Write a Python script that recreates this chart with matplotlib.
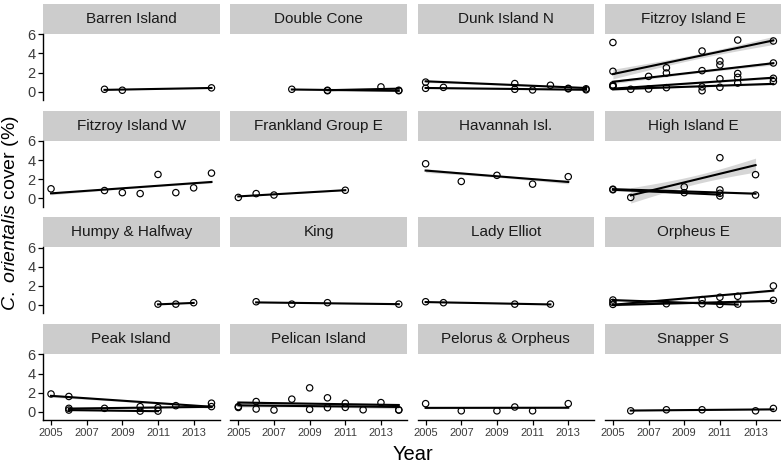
import numpy as np
import matplotlib
matplotlib.use('Agg')
import matplotlib.pyplot as plt
from matplotlib.patches import Rectangle

plt.rcParams['font.family'] = 'Liberation Sans'
plt.rcParams['mathtext.fontset'] = 'custom'
plt.rcParams['mathtext.rm'] = 'Liberation Sans'
plt.rcParams['mathtext.it'] = 'Liberation Sans:italic'

# facet order
locations = ["Barren Island", "Double Cone", "Dunk Island N", "Fitzroy Island E",
             "Fitzroy Island W", "Frankland Group E", "Havannah Isl.", "High Island E",
             "Humpy & Halfway", "King", "Lady Elliot", "Orpheus E",
             "Peak Island", "Pelican Island", "Pelorus & Orpheus", "Snapper S"]

# one entry per monitoring site
site_location = ["Barren Island",
                 "Double Cone", "Double Cone",
                 "Dunk Island N", "Dunk Island N",
                 "Fitzroy Island E", "Fitzroy Island E", "Fitzroy Island E",
                 "Fitzroy Island E", "Fitzroy Island E",
                 "Fitzroy Island W",
                 "Frankland Group E",
                 "Havannah Isl.",
                 "High Island E", "High Island E", "High Island E",
                 "Humpy & Halfway",
                 "King",
                 "Lady Elliot",
                 "Orpheus E", "Orpheus E", "Orpheus E",
                 "Peak Island", "Peak Island", "Peak Island",
                 "Pelican Island", "Pelican Island",
                 "Pelorus & Orpheus",
                 "Snapper S"]

site_years = [[2008, 2009, 2014],
              [2008, 2010, 2014], [2010, 2013, 2014],
              [2005, 2010, 2012, 2013, 2014], [2005, 2006, 2010, 2011, 2013, 2014],
              [2005, 2008, 2010, 2011, 2012, 2014],
              [2005, 2007, 2008, 2010, 2011, 2012, 2014],
              [2005, 2008, 2010, 2011, 2012, 2014],
              [2005, 2006, 2007, 2010, 2011, 2012, 2014],
              [2005],
              [2005, 2008, 2009, 2010, 2011, 2012, 2013, 2014],
              [2005, 2006, 2007, 2011],
              [2005, 2007, 2009, 2011, 2013],
              [2006, 2009, 2011, 2013], [2005, 2009, 2011, 2013], [2005, 2011, 2011],
              [2011, 2012, 2013],
              [2006, 2008, 2010, 2014],
              [2005, 2006, 2010, 2012],
              [2005, 2010, 2011, 2012, 2014], [2005, 2008, 2010, 2014], [2005, 2011, 2012],
              [2005, 2006, 2010, 2012, 2014], [2006, 2008, 2011, 2014], [2006, 2010, 2011],
              [2005, 2006, 2008, 2009, 2010, 2011, 2013, 2014],
              [2005, 2006, 2007, 2009, 2010, 2011, 2012, 2014],
              [2005, 2007, 2009, 2010, 2011, 2013],
              [2006, 2008, 2010, 2013, 2014]]

site_cover = [[0.25, 0.15, 0.4],
              [0.25, 0.15, 0.1], [0.1, 0.5, 0.15],
              [1.0, 0.85, 0.67, 0.35, 0.3], [0.35, 0.45, 0.25, 0.18, 0.3, 0.2],
              [2.13, 2.5, 4.25, 3.2, 5.4, 5.3],
              [0.7, 1.6, 1.95, 2.2, 2.8, 1.9, 3.0],
              [0.55, 0.42, 0.5, 1.35, 1.5, 1.4],
              [0.6, 0.25, 0.28, 0.1, 0.46, 0.9, 1.06],
              [5.14],
              [1.0, 0.82, 0.6, 0.5, 2.5, 0.6, 1.1, 2.64],
              [0.1, 0.5, 0.35, 0.85],
              [3.62, 1.77, 2.41, 1.49, 2.27],
              [0.1, 1.2, 4.25, 2.48], [0.96, 0.6, 0.89, 0.35], [0.9, 0.53, 0.25],
              [0.1, 0.1, 0.25],
              [0.35, 0.1, 0.25, 0.1],
              [0.35, 0.25, 0.1, 0.1],
              [0.28, 0.57, 0.82, 0.92, 2.0], [0.07, 0.14, 0.14, 0.5], [0.53, 0.07, 0.1],
              [1.86, 1.6, 0.54, 0.64, 0.9], [0.36, 0.36, 0.43, 0.54], [0.18, 0.07, 0.07],
              [0.54, 1.07, 1.32, 0.25, 1.46, 0.89, 0.96, 0.18],
              [0.45, 0.29, 0.18, 2.5, 0.43, 0.46, 0.21, 0.2],
              [0.85, 0.1, 0.1, 0.5, 0.1, 0.85],
              [0.1, 0.21, 0.21, 0.1, 0.35]]

# half width of the confidence band at the ends of each fit
site_band = [0.05,
             0.05, 0.1,
             0.12, 0.08,
             0.5, 0.2, 0.15, 0.12, 0.0,
             0.15,
             0.05,
             0.2,
             0.8, 0.1, 0.1,
             0.03,
             0.05,
             0.03,
             0.15, 0.1, 0.1,
             0.15, 0.1, 0.05,
             0.2, 0.2,
             0.1,
             0.05]

y_ticks = [0, 2, 4, 6]
x_ticks = [2005, 2007, 2009, 2011, 2013]

W, H = 781, 472
fig = plt.figure(figsize=(W / 100, H / 100), dpi=100)


def px_axes(left, top, w, h):
    return fig.add_axes([left / W, 1 - (top + h) / H, w / W, h / H])


for i, loc in enumerate(locations):
    r, c = divmod(i, 4)
    ax = px_axes(43 + c * 187.3, 34 + r * 106.7, 176.5, 66)

    for yrs, cov, band, sl in zip(site_years, site_cover, site_band, site_location):
        if sl != loc:
            continue
        x = np.array(yrs, dtype=float)
        y = np.array(cov, dtype=float)
        if len(set(yrs)) > 1:
            slope, icept = np.polyfit(x, y, 1)
            xs = np.linspace(x.min(), x.max(), 60)
            fit = icept + slope * xs
            if band > 0:
                shape = np.sqrt(1 / len(x) + (xs - x.mean()) ** 2 / ((x - x.mean()) ** 2).sum())
                hw = band * shape / shape.max()
                ax.fill_between(xs, fit - hw, fit + hw, color='#999999', alpha=0.4,
                                linewidth=0, zorder=1)
            ax.plot(xs, fit, color='black', lw=1.5, zorder=2)
        ax.scatter(x, y, s=21, facecolors='none', edgecolors='black', linewidths=0.85,
                   zorder=3)

    ax.set_xlim(2004.55, 2014.45)
    ax.set_ylim(-0.87, 6.03)
    for s in ['top', 'right']:
        ax.spines[s].set_visible(False)
    ax.spines['left'].set_visible(c == 0)
    ax.spines['bottom'].set_visible(r == 3)
    ax.spines['left'].set_linewidth(1.0)
    ax.spines['bottom'].set_linewidth(1.0)

    ax.set_yticks(y_ticks)
    ax.set_xticks(x_ticks)
    ax.tick_params(axis='y', length=3.5, width=0.9, labelsize=10.5, colors='#3C3C3C',
                   left=(c == 0), labelleft=(c == 0), pad=2)
    ax.tick_params(axis='x', length=3.5, width=0.9, labelsize=8, colors='#3C3C3C',
                   bottom=(r == 3), labelbottom=(r == 3), pad=2)
    ax.tick_params(axis='both', color='black')

    # facet strip
    ax.add_patch(Rectangle((0, 1), 1, 30 / 66, transform=ax.transAxes,
                           facecolor='#CCCCCC', edgecolor='none', clip_on=False))
    ax.text(0.5, 1 + 15 / 66, loc, transform=ax.transAxes, ha='center', va='center',
            fontsize=11, color='#1A1A1A')

fig.text(413 / W, 1 - 454 / H, 'Year', ha='center', va='center', fontsize=14.5)
fig.text(11 / W, 1 - 213 / H, r'$\it{C.\ orientalis}$ cover (%)', rotation=90,
         ha='center', va='center', fontsize=14)

fig.savefig('out.png', dpi=100)
